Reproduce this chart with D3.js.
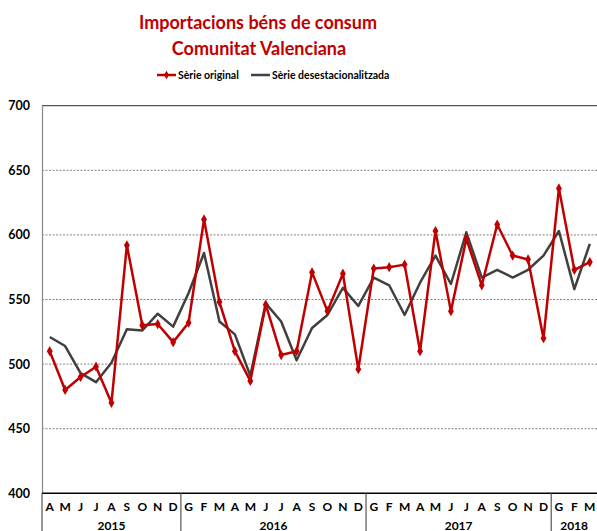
<!DOCTYPE html>
<html>
<head>
<meta charset="utf-8">
<script src="https://cdn.jsdelivr.net/npm/d3@7"></script>
<style>
  body { margin: 0; background: #fff; }
  svg { display: block; font-family: Lato, "Open Sans", sans-serif; }
</style>
</head>
<body>
<svg id="chart" width="597" height="531"></svg>
<script>
// month labels from April 2015 to March 2018 (catalan initials)
const months = ["A","M","J","J","A","S","O","N","D",
  "G","F","M","A","M","J","J","A","S","O","N","D",
  "G","F","M","A","M","J","J","A","S","O","N","D",
  "G","F","M"];
const years = ["2015", "2016", "2017", "2018"];

const original = [510, 480, 490, 498, 470, 592, 530, 531, 517,
  532, 612, 548, 510, 487, 546, 507, 510, 571, 541, 570, 496,
  574, 575, 577, 510, 603, 541, 597, 561, 608, 584, 581, 520,
  636, 573, 579];
const adjusted = [521, 514, 493, 486, 501, 527, 526, 539, 529,
  555, 586, 533, 523, 491, 547, 533, 503, 528, 538, 559, 545,
  567, 561, 538, 563, 584, 562, 602, 567, 573, 567, 573, 584,
  603, 558, 593];
const yTicks = [400, 450, 500, 550, 600, 650, 700];

const red = "#c00000";
const grey = "#404040";

const svg = d3.select("#chart");
const plot = { left: 42, right: 597.5, top: 105.7, bottom: 493.3 };

const x = d3.scaleBand().domain(d3.range(months.length)).range([plot.left, plot.right]);
const y = d3.scaleLinear().domain([400, 700]).range([plot.bottom, plot.top]);

// title
svg.append("text")
  .attr("x", 258).attr("y", 29)
  .attr("text-anchor", "middle")
  .attr("fill", red).attr("font-weight", "bold").attr("font-size", "18px")
  .text("Importacions béns de consum");
svg.append("text")
  .attr("x", 259).attr("y", 55)
  .attr("text-anchor", "middle")
  .attr("fill", red).attr("font-weight", "bold").attr("font-size", "18px")
  .text("Comunitat Valenciana");

// legend
const legend = svg.append("g").attr("font-weight", "bold").attr("font-size", "10.5px");
legend.append("line").attr("x1", 157).attr("x2", 176).attr("y1", 75).attr("y2", 75)
  .attr("stroke", red).attr("stroke-width", 2.5);
legend.append("path").attr("d", d3.symbol(d3.symbolDiamond, 22)())
  .attr("transform", "translate(166.5,75)").attr("fill", red);
legend.append("text").attr("x", 178).attr("y", 79).text("Sèrie original");
legend.append("line").attr("x1", 251).attr("x2", 270).attr("y1", 75).attr("y2", 75)
  .attr("stroke", grey).attr("stroke-width", 2.5);
legend.append("text").attr("x", 272).attr("y", 79).text("Sèrie desestacionalitzada");

// gridlines
svg.append("g")
  .selectAll("line")
  .data(yTicks.filter(t => t > 400 && t < 700))
  .join("line")
  .attr("x1", plot.left).attr("x2", plot.right)
  .attr("y1", d => y(d)).attr("y2", d => y(d))
  .attr("stroke", "#808080").attr("stroke-width", 1)
  .attr("stroke-dasharray", "2,1.5");

// top border at 700
svg.append("line")
  .attr("x1", plot.left).attr("x2", plot.right).attr("y1", y(700)).attr("y2", y(700))
  .attr("stroke", "#555").attr("stroke-width", 1.2);

// y axis
const yAxis = svg.append("g")
  .attr("transform", `translate(${plot.left},0)`)
  .call(d3.axisLeft(y).tickValues(yTicks).tickSize(0).tickPadding(12));
yAxis.select(".domain").attr("stroke", "#888").attr("stroke-width", 1.2);
yAxis.selectAll("text")
  .attr("font-family", "Lato, sans-serif")
  .attr("font-weight", "bold").attr("font-size", "12.5px").attr("fill", "#000");

// x axis: month row and year row
svg.append("line")
  .attr("x1", plot.left).attr("x2", plot.right).attr("y1", plot.bottom).attr("y2", plot.bottom)
  .attr("stroke", "#000").attr("stroke-width", 1.5);

svg.append("g")
  .selectAll("text")
  .data(months)
  .join("text")
  .attr("x", (d, i) => x(i) + x.bandwidth() / 2)
  .attr("y", 511)
  .attr("text-anchor", "middle")
  .attr("font-weight", "bold").attr("font-size", "12px")
  .text(d => d);

// group months into years: a new year starts at each "G" (gener)
let yi = 0;
const yearOf = months.map((m, i) => {
  if (i > 0 && m === "G") yi++;
  return years[yi];
});
const yearSpans = years.map(yr => {
  const idx = d3.range(months.length).filter(i => yearOf[i] === yr);
  return { year: yr, start: x(idx[0]), end: x(idx[idx.length - 1]) + x.bandwidth() };
});

svg.append("g")
  .selectAll("line")
  .data(yearSpans)
  .join("line")
  .attr("x1", d => d.start).attr("x2", d => d.start)
  .attr("y1", plot.bottom).attr("y2", 531)
  .attr("stroke", "#555").attr("stroke-width", 1.2);

svg.append("g")
  .selectAll("text")
  .data(yearSpans)
  .join("text")
  .attr("x", d => (d.start + Math.min(d.end, 597)) / 2)
  .attr("y", 529.5)
  .attr("text-anchor", "middle")
  .attr("font-weight", "bold").attr("font-size", "12px")
  .text(d => d.year);

// series lines
const line = d3.line()
  .x((d, i) => x(i) + x.bandwidth() / 2)
  .y(d => y(d));

svg.append("path")
  .datum(adjusted)
  .attr("d", line)
  .attr("fill", "none").attr("stroke", grey).attr("stroke-width", 2.5)
  .attr("stroke-linejoin", "round");

svg.append("path")
  .datum(original)
  .attr("d", line)
  .attr("fill", "none").attr("stroke", red).attr("stroke-width", 2.5)
  .attr("stroke-linejoin", "round");

svg.append("g")
  .selectAll("path")
  .data(original)
  .join("path")
  .attr("d", d3.symbol(d3.symbolDiamond, 30)())
  .attr("transform", (d, i) => `translate(${x(i) + x.bandwidth() / 2},${y(d)})`)
  .attr("fill", red);
</script>
</body>
</html>
